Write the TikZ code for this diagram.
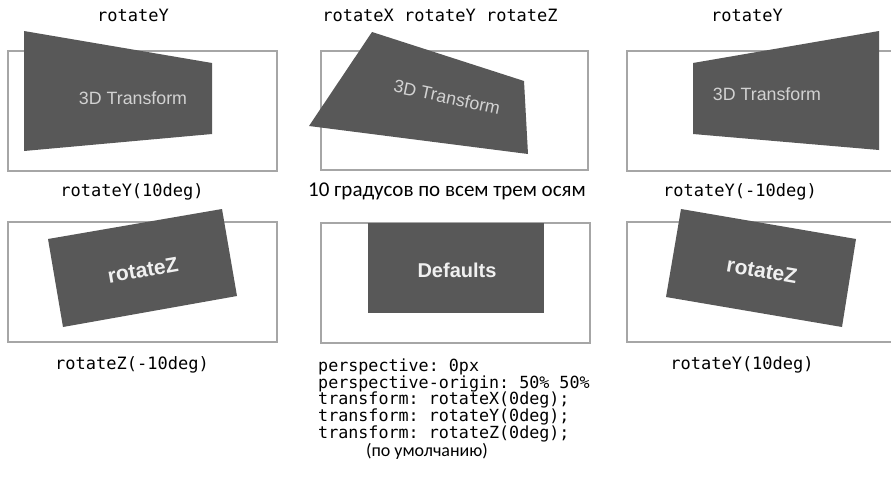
\documentclass[tikz,border=0pt]{standalone}
\usepackage{fontspec}
\setmonofont{DejaVu Sans Mono}
\newfontfamily\capfont{Carlito}
\newfontfamily\platefont{Liberation Sans}
\definecolor{framegray}{HTML}{A6A6A6}
\definecolor{plategray}{HTML}{585858}
\definecolor{inkgray}{HTML}{D2D2D2}
\definecolor{inkwhite}{HTML}{F0F0F0}
\tikzset{
  frame/.style={draw=framegray, line width=1.4pt},
  plate/.style={fill=plategray},
  platetext/.style={text=inkgray, inner sep=0pt, font=\platefont\fontsize{17.8}{20}\selectfont},
  platebold/.style={text=inkwhite, inner sep=0pt, font=\platefont\bfseries\fontsize{21}{24}\selectfont},
  codelabel/.style={inner sep=0pt, font=\ttfamily\fontsize{17}{18}\selectfont},
  codeline/.style={inner sep=0pt, anchor=base west, font=\ttfamily\fontsize{16.7}{17}\selectfont},
  plainlabel/.style={inner sep=0pt, font=\capfont\fontsize{21}{24}\selectfont}
}
\begin{document}
\begin{tikzpicture}[x=1pt,y=-1pt]
  \useasboundingbox (0,0) rectangle (891,485);

  % top row: rotateY / all axes / rotateY
  \draw[frame] (8,51) rectangle (277,171);
  \fill[plate] (24,31) -- (212,63) -- (212,134) -- (24,151) -- cycle;
  \node[platetext] (tfLeft) at (133,98) {3D Transform};
  \node[codelabel, anchor=base] (topLeft) at (133,21) {rotateY};
  \node[codelabel, anchor=base] (capLeft) at (132,196) {rotateY(10deg)};

  \draw[frame] (321,51) rectangle (588,170);
  \fill[plate] (372,32) -- (524,81) -- (528,154) -- (309,126) -- cycle;
  \node[platetext, rotate=-12] (tfMid) at (447,97) {3D Transform};
  \node[codelabel, anchor=base] (topMid) at (440,21) {rotateX rotateY rotateZ};
  \node[plainlabel, anchor=base] (capMid) at (447,196) {10 градусов по всем трем осям};

  \draw[frame] (627,51) rectangle (895,171);
  \fill[plate] (693,63) -- (879,31) -- (879,150) -- (693,134) -- cycle;
  \node[platetext] (tfRight) at (767,94) {3D Transform};
  \node[codelabel, anchor=base] (topRight) at (747,21) {rotateY};
  \node[codelabel, anchor=base] (capRight) at (740,196) {rotateY(-10deg)};

  % bottom row: rotateZ / defaults / rotateZ
  \draw[frame] (8,222) rectangle (277,342);
  \fill[plate] (48,239) -- (222,209) -- (237,296) -- (63,327) -- cycle;
  \node[platebold, rotate=10] (rzLeft) at (143,270) {rotateZ};
  \node[codelabel, anchor=base] (capZLeft) at (132,369) {rotateZ(-10deg)};

  \draw[frame] (321,223) rectangle (590,343);
  \fill[plate] (368,223) rectangle (544,313);
  \node[platebold, font=\platefont\bfseries\fontsize{20}{24}\selectfont] (dflt) at (457,270) {Defaults};

  \draw[frame] (627,222) rectangle (895,342);
  \fill[plate] (681,209) -- (856,239) -- (842,327) -- (666,297) -- cycle;
  \node[platebold, rotate=-10] (rzRight) at (762,271) {rotateZ};
  \node[codelabel, anchor=base] (capZRight) at (742,369) {rotateY(10deg)};

  % default values
  \node[codeline] (dl1) at (318,371) {perspective: 0px};
  \node[codeline] (dl2) at (318,388) {perspective-origin: 50\% 50\%};
  \node[codeline] (dl3) at (318,404.5) {transform: rotateX(0deg);};
  \node[codeline] (dl4) at (318,421) {transform: rotateY(0deg);};
  \node[codeline] (dl5) at (318,438) {transform: rotateZ(0deg);};
  \node[plainlabel, anchor=base, font=\capfont\fontsize{18}{22}\selectfont] (dnote) at (427,456) {(по умолчанию)};
\end{tikzpicture}
\end{document}
